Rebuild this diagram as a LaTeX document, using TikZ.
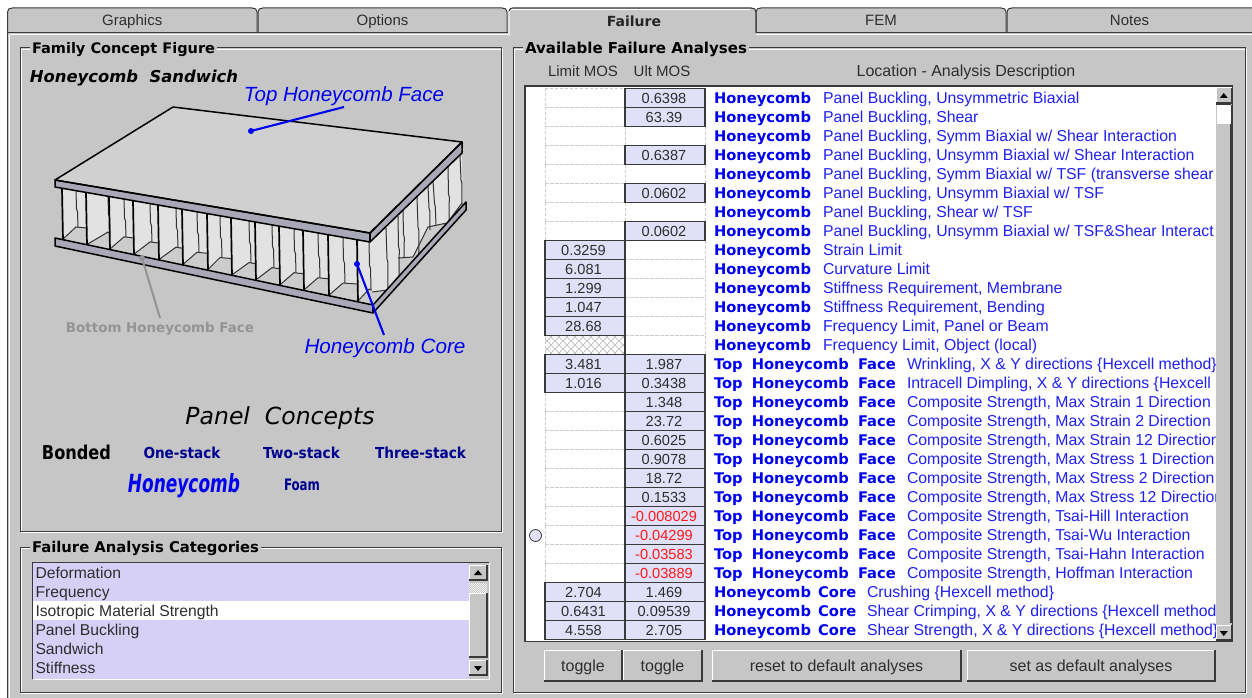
\documentclass[tikz,border=0pt]{standalone}
\usepackage{fontspec}
\usepackage{graphicx}
\setmainfont{Liberation Sans}
\newfontfamily\dv{DejaVu Sans}
\definecolor{uibg}{HTML}{C6C6C6}
\definecolor{uitext}{HTML}{2E2E2E}
\definecolor{uidark}{HTML}{3A3A3A}
\definecolor{cellfill}{HTML}{E0E0F8}
\definecolor{listfill}{HTML}{D6D0F6}
\definecolor{blueink}{HTML}{0000F0}
\definecolor{descink}{HTML}{2020F0}
\definecolor{navyink}{HTML}{000090}
\definecolor{negred}{HTML}{FF1818}
\definecolor{slab}{HTML}{A8A8B6}
\definecolor{faceg}{HTML}{D0D0D0}
\definecolor{wallg}{HTML}{E2E2E2}
\definecolor{floorg}{HTML}{CCCCCC}
\newcommand{\fitw}[2]{\resizebox{#1pt}{!}{#2}}
\tikzset{
  x=1pt,y=-1pt,
  inner/.style={inner sep=0pt,outer sep=0pt},
  uilabel/.style={inner,anchor=base,text=uitext,font=\fontsize{15}{15}\selectfont},
  uilarge/.style={inner,anchor=base,text=uitext,font=\fontsize{16}{16}\selectfont},
  grouptitle/.style={inner,anchor=base west,fill=uibg,text=black,font=\dv\bfseries},
  etchd/.style={draw=uidark,line width=1pt},
  etchl/.style={draw=white,line width=.8pt},
  valuetext/.style={inner,anchor=base,text=uitext,font=\fontsize{14.6}{15}\selectfont},
  loctext/.style={inner,anchor=base west,text=blueink,font=\dv\bfseries\fontsize{14.7}{15}\selectfont},
  desctext/.style={inner,anchor=base west,text=descink,font=\fontsize{15.8}{16}\selectfont},
  cellbox/.style={draw=uidark,line width=1.1pt,fill=cellfill},
  emptybox/.style={draw=black!20,line width=.7pt,dash pattern=on 3pt off 2pt},
  thickwall/.style={draw=black,line width=1.7pt},
  thinwall/.style={draw=black!80,line width=1pt},
  outline/.style={draw=black,line width=1.5pt,line join=round},
  leader/.style={line width=2.1pt},
}
\newcommand{\tabshape}[4]{% x1,x2,label,name
  \draw[fill=uibg,draw=uidark,line width=1pt] (#1,32) -- (#1,12) .. controls (#1,9) and (#1+2,8) .. (#1+5,8) -- (#2-5,8) .. controls (#2-2,8) and (#2,9) .. (#2,12) -- (#2,32);
  \node[uilabel] (#4) at ({(#1+#2)/2},25.5) {#3};
}
\newcommand{\etched}[4]{% x1,y1,x2,y2
  \draw[etchl] (#1+1,#2+1) rectangle (#3+1,#4+1);
  \draw[etchd] (#1,#2) rectangle (#3,#4);
}
\newcommand{\raisedbox}[4]{% x1,y1,x2,y2
  \fill[uibg] (#1,#2) rectangle (#3,#4);
  \draw[white,line width=1pt] (#1,#4) -- (#1,#2) -- (#3,#2);
  \draw[uidark,line width=1.2pt] (#1,#4) -- (#3,#4) -- (#3,#2);
}
\newcommand{\upbtn}[3]{%
  \raisedbox{#1}{#2}{#1+#3}{#2+15}
  \fill[black] (#1+#3/2-4,#2+10) -- (#1+#3/2+4,#2+10) -- (#1+#3/2,#2+5) -- cycle;
}
\newcommand{\downbtn}[3]{%
  \raisedbox{#1}{#2}{#1+#3}{#2+15}
  \fill[black] (#1+#3/2-4,#2+6) -- (#1+#3/2+4,#2+6) -- (#1+#3/2,#2+11) -- cycle;
}
\newcommand{\btn}[4]{%
  \raisedbox{#1}{650}{#2}{681}
  \node[uilarge] (#3) at ({(#1+#2)/2},671) {#4};
}
\newcommand{\LocA}{Honeycomb}
\newcommand{\LocB}{Top\hspace{4pt} Honeycomb\hspace{4pt} Face}
\newcommand{\LocC}{Honeycomb\hspace{2pt} Core}
\newcommand{\Rowitem}[4]{% i, loc, xdesc, desc
  \node[loctext] (loc#1) at (714,{103.3+19*#1}) {#2};
  \node[desctext] (desc#1) at (#3,{103.3+19*#1}) {#4};
}
\newcommand{\Lcell}[2]{%
  \draw[cellbox] (545,{88.5+19*#1}) rectangle (625,{107.5+19*#1});
  \node[valuetext] (lim#1) at (583.5,{103.2+19*#1}) {#2};
}
\newcommand{\Ucell}[2]{%
  \draw[cellbox] (625,{88.5+19*#1}) rectangle (705,{107.5+19*#1});
  \node[valuetext] (ult#1) at (664,{103.2+19*#1}) {#2};
}
\newcommand{\Neg}[1]{\textcolor{negred}{#1}}
\begin{document}
\begin{tikzpicture}
\useasboundingbox (0,0) rectangle (1252,698);
\fill[white] (0,0) rectangle (1252,698);
\fill[uibg] (7,32) rectangle (1252,698);
\draw[uidark,line width=1.1pt] (7.5,32) -- (7.5,698);
\draw[white,line width=1pt] (9.5,35) -- (9.5,698);
% tabs
\tabshape{7.5}{257}{Graphics}{tabA}
\tabshape{258}{507}{Options}{tabB}
\tabshape{756}{1006}{FEM}{tabD}
\tabshape{1007}{1262}{\hspace{-10pt}Notes}{tabE}
\draw[uidark,line width=1.1pt] (7.5,32.5) -- (508,32.5) (756,32.5) -- (1252,32.5);
\draw[white,line width=1pt] (10,34.5) -- (508,34.5) (756,34.5) -- (1252,34.5);
\fill[uibg] (508,34) -- (508,12) .. controls (508,9) and (510,8) .. (513,8) -- (751,8) .. controls (754,8) and (756,9) .. (756,12) -- (756,36) -- cycle;
\draw[white,line width=1pt] (509,36) -- (509,12) .. controls (509,10) and (511,9.5) .. (513,9.5) -- (750,9.5);
\draw[uidark,line width=1.1pt] (509,11) .. controls (510,8.5) and (511,8) .. (513,8) -- (751,8) .. controls (754,8) and (756,9) .. (756,12) -- (756,33);
\node[inner,anchor=base,font=\dv\bfseries\fontsize{14}{15}\selectfont,text=black!85] (tabC) at (634,26.5) {Failure};
% group frames
\etched{20}{48}{501}{531}
\etched{20}{547}{501}{692}
\etched{513}{48}{1245}{692}
\node[grouptitle,inner xsep=2pt] (ttlA) at (30,53.5) {\fitw{183}{Family Concept Figure}};
\node[grouptitle,inner xsep=2pt] (ttlB) at (30,552.5) {\fitw{227}{Failure Analysis Categories}};
\node[grouptitle,inner xsep=2pt] (ttlC) at (523,53.5) {\fitw{222}{Available Failure Analyses}};
% ----- sandwich figure
\coordinate (tl) at (55,180); \coordinate (tb) at (173,107); \coordinate (tr) at (462,142); \coordinate (tf) at (370,233);
\fill[faceg] (tl) -- (tb) -- (tr) -- (tf) -- cycle;
% right core
\fill[wallg] (370,240) -- (462,152) -- (463,204) -- (447,223) -- (428,227) -- (413,257) -- (398,258) -- (398,277) -- (388,290) -- (372,292) -- (372,312) -- cycle;
\fill[floorg] (372,292) -- (388,290) -- (398,277) -- (398,258) -- (413,257) -- (428,227) -- (447,223) -- (464,203) -- (373,306) -- cycle;
\draw[thinwall] (372,292) -- (388,290) -- (398,277) (398,258) -- (413,257) -- (428,227) -- (447,223) -- (462,203);
\foreach \xa/\ya/\xb/\yb in {386/228/388/290, 398/216/399/277, 403/211/404/258, 417/197/419/257, 428/186/430/230, 433/181/436/226, 448/166/449/222, 460/155/462/205}{
  \draw[thinwall] (\xa,\ya) -- ({(\xa+\xb)/2},{(\ya+\yb)/2}) -- ({(\xa+\xb)/2+.8},{(\ya+\yb)/2+3}) -- (\xb,\yb);
}
% front core
\fill[wallg] (62,186) -- (370,241) -- (372,312) -- (62,240) -- cycle;
\foreach \a/\b/\o in {62/86/14, 86/109/22, 109/133/15, 133/158/17, 158/182/18, 182/207/15, 207/231/13, 231/255/18, 255/279/17, 279/303/15, 303/328/15, 328/357/15, 357/372/12}{
  \pgfmathsetmacro{\ta}{187+0.1746*(\a-55)}
  \pgfmathsetmacro{\ba}{238.5+0.2107*(\a-55)}
  \pgfmathsetmacro{\bb}{238.5+0.2107*(\b-55)}
  \pgfmathsetmacro{\tm}{187+0.1746*(\a+\o-55)}
  \pgfmathsetmacro{\vv}{\ba-13}
  \pgfmathsetmacro{\mx}{\a+\o}
  \fill[floorg] (\a,\ba) -- (\mx,\vv) -- (\b,\vv+1) -- (\b,\bb) -- cycle;
  \draw[thinwall] (\a,\ba) -- (\mx,\vv) -- (\b,\vv+1);
  \draw[thinwall] (\mx,\tm) -- (\mx+.5,{(\tm+\vv)/2}) -- (\mx+1.5,{(\tm+\vv)/2+3}) -- (\mx+2,\vv);
  \draw[thickwall] (\a,\ta) -- (\a+1,\ba);
}
% bottom slab
\draw[outline,fill=slab] (55,238) -- (373,305) -- (466,202) -- (466,210) -- (373,313) -- (55,246) -- cycle;
\draw[black,line width=1.2pt] (373,305) -- (373,313);
% top slab
\draw[outline,fill=slab] (55,180) -- (370,233) -- (462,142) -- (462,153) -- (370,242) -- (55,187) -- cycle;
\draw[black,line width=1.2pt] (370,233) -- (370,242);
\draw[outline] (tl) -- (tb) -- (tr) -- (tf) -- cycle;
% labels
\node[inner,text=black,font=\dv\bfseries\itshape] (hsand) at (134,78) {\fitw{208}{Honeycomb\ \ Sandwich}};
\node[inner,text=blueink,font=\itshape] (topface) at (344,96) {\fitw{200}{Top Honeycomb Face}};
\node[inner,text=black!42,font=\dv\bfseries] (botface) at (160,329) {\fitw{188}{Bottom Honeycomb Face}};
\node[inner,text=blueink,font=\itshape] (corelab) at (385,348) {\fitw{161}{Honeycomb Core}};
\coordinate (topdot) at (251,131); \coordinate (topend) at (344,107);
\coordinate (coredot) at (357,264); \coordinate (coreend) at (384,335);
\coordinate (botdot) at (142,258); \coordinate (botend) at (160,318);
\draw[leader,draw=black!42] (botdot) -- (botend);
\fill[black!42] (botdot) circle (3pt);
\draw[leader,draw=blueink] (topdot) -- (topend);
\fill[blueink] (topdot) circle (3pt);
\draw[leader,draw=blueink] (coredot) -- (coreend);
\fill[blueink] (coredot) circle (3pt);
\node[inner,text=black,font=\dv\itshape] (pconcepts) at (280,418) {\fitw{189}{Panel\ \ Concepts}};
\node[inner,text=black,font=\dv\bfseries] (bonded) at (76.5,452) {\resizebox{69pt}{14.5pt}{Bonded}};
\node[inner,text=navyink,font=\dv\bfseries] (one) at (182,453) {\resizebox{77pt}{11.5pt}{One-stack}};
\node[inner,text=navyink,font=\dv\bfseries] (two) at (301.5,453) {\resizebox{77pt}{11.5pt}{Two-stack}};
\node[inner,text=navyink,font=\dv\bfseries] (three) at (420.5,453) {\resizebox{91pt}{11.5pt}{Three-stack}};
\node[inner,text=blueink,font=\dv\bfseries\itshape] (hcomb) at (184,486) {\resizebox{112pt}{19pt}{Honeycomb}};
\node[inner,text=navyink,font=\dv\bfseries] (foam) at (302,485) {\resizebox{36pt}{11.5pt}{Foam}};
% ----- categories list
\fill[listfill] (32.5,563) rectangle (469,679);
\fill[white] (32.5,601) rectangle (469,620);
\draw[uidark,line width=1.3pt] (32.5,679) -- (32.5,562.5) -- (489,562.5);
\draw[white,line width=1pt] (32.5,679.5) -- (489,679.5) -- (489,563);
\foreach \t/\yy/\nm in {Deformation/578.5/ca,Frequency/597.5/cb,Isotropic Material Strength/616.5/cc,Panel Buckling/635.5/cd,Sandwich/654.5/ce,Stiffness/673.5/cf}{
  \node[uilabel,anchor=base west,font=\fontsize{15.7}{16}\selectfont] (\nm) at (35.5,\yy) {\t};
}
\upbtn{469}{565}{18}
\foreach \sx in {469,471,...,485}{\foreach \sy in {583,585,...,591}{\fill[white!80!uibg] (\sx,\sy) rectangle +(1,1);\fill[white!80!uibg] (\sx+1,\sy+1) rectangle +(1,1);}}
\raisedbox{469}{593}{487}{657}
\downbtn{469}{660}{18}
% ----- analyses table
\node[uilabel] (hL) at (583,77) {Limit MOS};
\node[uilabel] (hU) at (662,77) {Ult MOS};
\node[uilarge] (hD) at (966,77) {Location - Analysis Description};
\fill[white] (525,86) rectangle (1232,641.5);
\draw[uidark,line width=1.3pt] (525,641.5) -- (525,86) -- (1232.5,86) -- (1232.5,641.5) -- cycle;
\foreach \r in {0,...,28}{
  \draw[emptybox] (545,{88.5+19*\r}) rectangle (625,{107.5+19*\r});
  \draw[emptybox] (625,{88.5+19*\r}) rectangle (705,{107.5+19*\r});
}
\Ucell{0}{0.6398}\Ucell{1}{63.39}\Ucell{3}{0.6387}\Ucell{5}{0.0602}\Ucell{7}{0.0602}
\Lcell{8}{0.3259}\Lcell{9}{6.081}\Lcell{10}{1.299}\Lcell{11}{1.047}\Lcell{12}{28.68}
\begin{scope}
\clip (545,{88.5+19*13}) rectangle (625,{107.5+19*13});
\foreach \h in {-20,-12,...,100}{
  \draw[black!25,line width=.7pt] (545+\h,335) -- (565+\h,355);
  \draw[black!25,line width=.7pt] (565+\h,335) -- (545+\h,355);
}
\end{scope}
\draw[uidark,line width=1.1pt] (545,335.5) -- (625,335.5) -- (625,354.5) -- (545,354.5);
\Lcell{14}{3.481}\Ucell{14}{1.987}
\Lcell{15}{1.016}\Ucell{15}{0.3438}
\Ucell{16}{1.348}\Ucell{17}{23.72}\Ucell{18}{0.6025}\Ucell{19}{0.9078}\Ucell{20}{18.72}\Ucell{21}{0.1533}
\Ucell{22}{\Neg{-0.008029}}\Ucell{23}{\Neg{-0.04299}}\Ucell{24}{\Neg{-0.03583}}\Ucell{25}{\Neg{-0.03889}}
\Lcell{26}{2.704}\Ucell{26}{1.469}
\Lcell{27}{0.6431}\Ucell{27}{0.09539}
\Lcell{28}{4.558}\Ucell{28}{2.705}
\draw[draw=uidark,line width=.8pt,fill=cellfill] (535.5,535.5) circle (6pt);
\begin{scope}
\clip (525,87) rectangle (1216,641);
\Rowitem{0}{\LocA}{823}{Panel Buckling, Unsymmetric Biaxial}
\Rowitem{1}{\LocA}{823}{Panel Buckling, Shear}
\Rowitem{2}{\LocA}{823}{Panel Buckling, Symm Biaxial w/ Shear Interaction}
\Rowitem{3}{\LocA}{823}{Panel Buckling, Unsymm Biaxial w/ Shear Interaction}
\Rowitem{4}{\LocA}{823}{Panel Buckling, Symm Biaxial w/ TSF (transverse shear}
\Rowitem{5}{\LocA}{823}{Panel Buckling, Unsymm Biaxial w/ TSF}
\Rowitem{6}{\LocA}{823}{Panel Buckling, Shear w/ TSF}
\Rowitem{7}{\LocA}{823}{Panel Buckling, Unsymm Biaxial w/ TSF\&Shear Interact}
\Rowitem{8}{\LocA}{823}{Strain Limit}
\Rowitem{9}{\LocA}{823}{Curvature Limit}
\Rowitem{10}{\LocA}{823}{Stiffness Requirement, Membrane}
\Rowitem{11}{\LocA}{823}{Stiffness Requirement, Bending}
\Rowitem{12}{\LocA}{823}{Frequency Limit, Panel or Beam}
\Rowitem{13}{\LocA}{823}{Frequency Limit, Object (local)}
\Rowitem{14}{\LocB}{907}{Wrinkling, X \& Y directions \{Hexcell method\}}
\Rowitem{15}{\LocB}{907}{Intracell Dimpling, X \& Y directions \{Hexcell m}
\Rowitem{16}{\LocB}{907}{Composite Strength, Max Strain 1 Direction}
\Rowitem{17}{\LocB}{907}{Composite Strength, Max Strain 2 Direction}
\Rowitem{18}{\LocB}{907}{Composite Strength, Max Strain 12 Direction}
\Rowitem{19}{\LocB}{907}{Composite Strength, Max Stress 1 Direction}
\Rowitem{20}{\LocB}{907}{Composite Strength, Max Stress 2 Direction}
\Rowitem{21}{\LocB}{907}{Composite Strength, Max Stress 12 Direction}
\Rowitem{22}{\LocB}{907}{Composite Strength, Tsai-Hill Interaction}
\Rowitem{23}{\LocB}{907}{Composite Strength, Tsai-Wu Interaction}
\Rowitem{24}{\LocB}{907}{Composite Strength, Tsai-Hahn Interaction}
\Rowitem{25}{\LocB}{907}{Composite Strength, Hoffman Interaction}
\Rowitem{26}{\LocC}{867}{Crushing \{Hexcell method\}}
\Rowitem{27}{\LocC}{867}{Shear Crimping, X \& Y directions \{Hexcell method\}}
\Rowitem{28}{\LocC}{867}{Shear Strength, X \& Y directions \{Hexcell method\}}
\end{scope}
% table scrollbar
\fill[uibg] (1216,87) rectangle (1232,641);
\draw[uidark,line width=1.2pt] (1231,105) -- (1231,623);
\upbtn{1216}{88}{15.5}
\fill[white] (1216.5,105) rectangle (1231,124);
\draw[uidark,line width=1pt] (1216,105) -- (1231,105);
\downbtn{1216}{625}{15.5}
% buttons
\btn{544}{622}{btnA}{toggle}
\btn{623}{702}{btnB}{toggle}
\btn{712}{961}{btnC}{reset to default analyses}
\btn{967}{1215}{btnD}{set as default analyses}
\end{tikzpicture}
\end{document}
